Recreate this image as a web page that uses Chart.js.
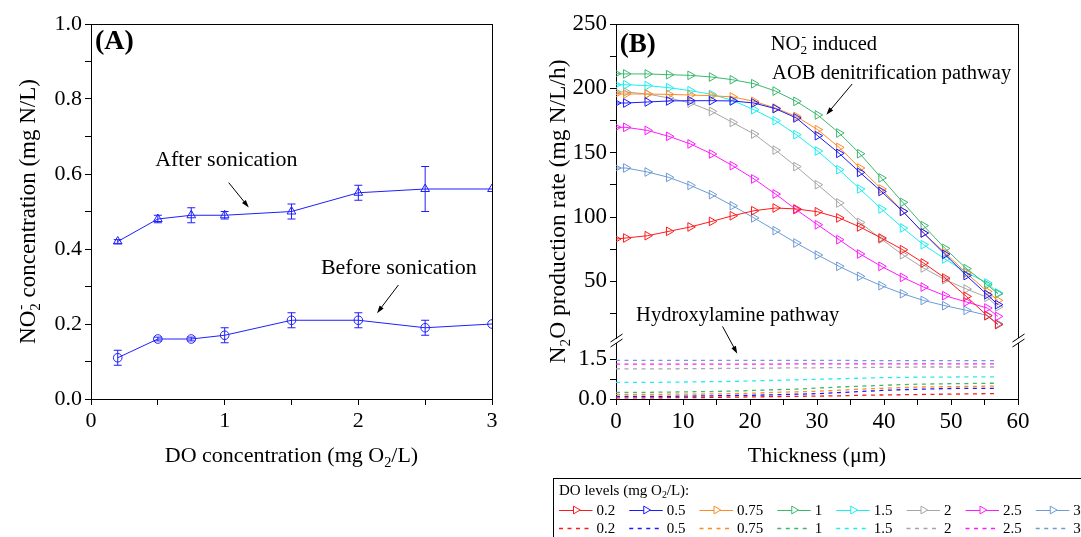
<!DOCTYPE html>
<html>
<head>
<meta charset="utf-8">
<script src="https://cdn.jsdelivr.net/npm/chart.js@4.4.1/dist/chart.umd.min.js"></script>
<style>
  html, body { margin: 0; padding: 0; background: #fff; }
  #wrapA { position: absolute; left: 0; top: 0; width: 540px; height: 537px; }
  #wrapB { position: absolute; left: 540px; top: 0; width: 541px; height: 537px; }
</style>
</head>
<body>
<div id="wrapA"><canvas id="chartA" width="540" height="537"></canvas></div>
<div id="wrapB"><canvas id="chartB" width="541" height="537"></canvas></div>
<script>
// ---------- panel A data ----------
const doConc = [0.2, 0.5, 0.75, 1, 1.5, 2, 2.5, 3];
const afterSonication = [0.42, 0.48, 0.49, 0.49, 0.50, 0.55, 0.56, 0.56];
const afterErr = [0.005, 0.01, 0.02, 0.01, 0.02, 0.02, 0.06, 0];
const beforeSonication = [0.11, 0.16, 0.16, 0.17, 0.21, 0.21, 0.19, 0.20];
const beforeErr = [0.02, 0.005, 0.005, 0.02, 0.02, 0.02, 0.02, 0];

// ---------- panel B data ----------
const thickness = [0, 1.5, 4.7, 7.9, 11.1, 14.3, 17.4, 20.6, 23.8, 26.9,
                   30.1, 33.3, 36.4, 39.6, 42.8, 45.9, 49.1, 52.3, 55.4, 57];
const doLevels = ['0.2', '0.5', '0.75', '1', '1.5', '2', '2.5', '3'];
const levelColors = ['#ff1a1a', '#1a1aff', '#ff8a1f', '#3cb86e', '#1aeef2', '#a6a6a6', '#ff1aff', '#6d9bd6'];

// AOB denitrification pathway (solid, triangles)
const aob02 = [82.9, 83.7, 85.5, 88.9, 92.3, 96.6, 101.0, 104.9, 107.0, 106.3, 104.1, 99.3, 92.3, 83.7, 74.6, 64.3, 52.6, 38.3, 23.3, 16.4];
const aob05 = [188.6, 188.6, 189.4, 190.2, 190.4, 190.4, 190.2, 188.6, 184.2, 177.0, 163.2, 149.5, 134.7, 119.9, 104.4, 87.6, 71.0, 54.5, 39.7, 31.9];
const aob075 = [195.6, 195.6, 195.6, 195.3, 194.8, 194.3, 193.3, 189.9, 184.7, 178.2, 167.9, 154.1, 138.1, 121.8, 104.4, 87.6, 72.1, 56.5, 42.2, 35.2];
const aob1 = [211.4, 211.2, 211.2, 210.6, 210.1, 208.8, 206.7, 203.6, 197.9, 189.9, 179.3, 165.3, 149.2, 130.4, 111.4, 93.3, 75.6, 59.9, 47.4, 40.4];
const aob15 = [202.8, 202.8, 202.1, 200.5, 198.2, 195.3, 190.6, 183.4, 174.9, 164.0, 151.3, 136.8, 121.8, 106.3, 91.5, 78.5, 67.4, 57.0, 48.8, 41.0];
const aob2 = [197.2, 197.2, 195.6, 192.5, 188.6, 182.1, 173.5, 164.5, 152.0, 139.2, 125.1, 110.9, 95.8, 82.9, 70.7, 60.4, 51.3, 44.1, 37.6, 30.1];
const aob25 = [169.7, 169.7, 167.3, 162.7, 156.8, 149.0, 139.9, 129.6, 117.9, 105.7, 94.0, 82.4, 71.3, 61.7, 53.1, 45.6, 38.9, 34.0, 29.3, 22.8];
const aob3 = [138.1, 138.1, 135.0, 130.8, 124.6, 117.4, 108.8, 99.3, 89.4, 79.8, 70.5, 61.7, 53.9, 46.7, 40.4, 35.2, 31.1, 27.5, 23.6, 17.1];

// Hydroxylamine pathway (dashed)
const nh02 = [0.04, 0.04, 0.04, 0.05, 0.05, 0.06, 0.07, 0.08, 0.09, 0.10, 0.11, 0.12, 0.14, 0.15, 0.16, 0.17, 0.18, 0.19, 0.20, 0.20];
const nh05 = [0.10, 0.10, 0.10, 0.10, 0.11, 0.12, 0.13, 0.14, 0.16, 0.18, 0.20, 0.24, 0.28, 0.32, 0.35, 0.37, 0.39, 0.40, 0.40, 0.40];
const nh075 = [0.17, 0.17, 0.17, 0.18, 0.18, 0.19, 0.20, 0.22, 0.25, 0.27, 0.29, 0.33, 0.37, 0.40, 0.43, 0.45, 0.46, 0.47, 0.48, 0.48];
const nh1 = [0.25, 0.25, 0.25, 0.26, 0.27, 0.28, 0.30, 0.32, 0.35, 0.37, 0.41, 0.45, 0.48, 0.51, 0.54, 0.56, 0.57, 0.58, 0.59, 0.59];
const nh15 = [0.62, 0.62, 0.62, 0.63, 0.64, 0.65, 0.66, 0.68, 0.70, 0.72, 0.74, 0.76, 0.78, 0.80, 0.81, 0.82, 0.82, 0.83, 0.83, 0.83];
const nh2 = [1.13, 1.13, 1.13, 1.13, 1.14, 1.14, 1.15, 1.15, 1.16, 1.17, 1.17, 1.18, 1.18, 1.19, 1.19, 1.20, 1.20, 1.20, 1.20, 1.20];
const nh25 = [1.31, 1.31, 1.31, 1.31, 1.31, 1.31, 1.31, 1.31, 1.31, 1.32, 1.32, 1.32, 1.32, 1.32, 1.32, 1.32, 1.32, 1.32, 1.32, 1.32];
const nh3 = [1.45, 1.45, 1.45, 1.45, 1.45, 1.45, 1.45, 1.45, 1.45, 1.45, 1.45, 1.45, 1.44, 1.44, 1.44, 1.44, 1.44, 1.44, 1.44, 1.44];

const aobSeries = [aob02, aob05, aob075, aob1, aob15, aob2, aob25, aob3];
const nhSeries = [nh02, nh05, nh075, nh1, nh15, nh2, nh25, nh3];

// ---------- text helpers ----------
const serif = '"Liberation Serif", "Times New Roman", Times, serif';
Chart.defaults.font.family = serif;
Chart.defaults.color = '#000';

function fontStr(size, bold) {
    return (bold ? 'bold ' : '') + size + 'px ' + serif;
}

function richWidth(ctx, parts, size, bold) {
    let w = 0;
    for (const p of parts) {
        if (typeof p === 'string') {
            ctx.font = fontStr(size, bold);
            w += ctx.measureText(p).width;
        } else {
            ctx.font = fontStr(size * 0.65);
            w += Math.max(ctx.measureText(p.sub || '').width, ctx.measureText(p.sup || '').width);
        }
    }
    return w;
}

// y is the vertical middle of the capitals
function drawRich(ctx, parts, x, y, size, opts = {}) {
    ctx.save();
    ctx.translate(x, y);
    if (opts.rotate) ctx.rotate(opts.rotate);
    const w = richWidth(ctx, parts, size, opts.bold);
    let cx = opts.align === 'center' ? -w / 2 : 0;
    const base = size * 0.33;
    ctx.fillStyle = '#000';
    ctx.textAlign = 'left';
    ctx.textBaseline = 'alphabetic';
    for (const p of parts) {
        if (typeof p === 'string') {
            ctx.font = fontStr(size, opts.bold);
            ctx.fillText(p, cx, base);
            cx += ctx.measureText(p).width;
        } else {
            ctx.font = fontStr(size * 0.65);
            let pw = 0;
            if (p.sub) {
                ctx.fillText(p.sub, cx, base + size * 0.22);
                pw = ctx.measureText(p.sub).width;
            }
            if (p.sup) {
                ctx.fillText(p.sup, cx + 1, base - size * 0.42);
                pw = Math.max(pw, ctx.measureText(p.sup).width + 1);
            }
            cx += pw;
        }
    }
    ctx.restore();
}

function drawArrow(ctx, x1, y1, x2, y2) {
    const ang = Math.atan2(y2 - y1, x2 - x1);
    const hl = 8, hs = 0.32;
    ctx.save();
    ctx.strokeStyle = '#000';
    ctx.fillStyle = '#000';
    ctx.lineWidth = 1;
    ctx.beginPath();
    ctx.moveTo(x1, y1);
    ctx.lineTo(x2 - Math.cos(ang) * 4, y2 - Math.sin(ang) * 4);
    ctx.stroke();
    ctx.beginPath();
    ctx.moveTo(x2, y2);
    ctx.lineTo(x2 - hl * Math.cos(ang - hs), y2 - hl * Math.sin(ang - hs));
    ctx.lineTo(x2 - hl * Math.cos(ang + hs), y2 - hl * Math.sin(ang + hs));
    ctx.closePath();
    ctx.fill();
    ctx.restore();
}

// ---------- plugins ----------
const framePlugin = {
    id: 'frame',
    afterDatasetsDraw(chart, args, opts) {
        const { ctx, chartArea: a } = chart;
        const segs = opts.segments.map((id) => chart.scales[id]);
        const r = Math.round(a.right) + 0.5;
        const t = Math.round(a.top) + 0.5;
        const l = Math.round(a.left) + 0.5;
        ctx.save();
        ctx.strokeStyle = '#000';
        ctx.lineWidth = 1;
        ctx.beginPath();
        ctx.moveTo(a.left, t);
        ctx.lineTo(r + 0.5, t);
        segs.forEach((s) => {
            ctx.moveTo(r, s.top);
            ctx.lineTo(r, s.bottom);
        });
        // break marks between axis segments
        for (let i = 0; i < segs.length - 1; i++) {
            const ys = [segs[i].bottom, segs[i + 1].top];
            for (const x of [l, r]) {
                for (const y of ys) {
                    ctx.moveTo(x - 6, y + 4);
                    ctx.lineTo(x + 6, y - 4);
                }
            }
        }
        ctx.stroke();
        ctx.restore();
    },
};

const errorBarPlugin = {
    id: 'errorBars',
    afterDatasetsDraw(chart) {
        const { ctx } = chart;
        chart.data.datasets.forEach((ds, di) => {
            if (!ds.errors) return;
            const meta = chart.getDatasetMeta(di);
            const ys = chart.scales[meta.yAxisID];
            ctx.save();
            ctx.strokeStyle = ds.borderColor;
            ctx.lineWidth = 1;
            ds.data.forEach((pt, i) => {
                const e = ds.errors[i];
                if (!e) return;
                const px = meta.data[i].x;
                const yTop = ys.getPixelForValue(pt.y + e);
                const yBot = ys.getPixelForValue(pt.y - e);
                ctx.beginPath();
                ctx.moveTo(px, yTop);
                ctx.lineTo(px, yBot);
                ctx.moveTo(px - 4, yTop);
                ctx.lineTo(px + 4, yTop);
                ctx.moveTo(px - 4, yBot);
                ctx.lineTo(px + 4, yBot);
                ctx.stroke();
            });
            ctx.restore();
        });
    },
};

const textPlugin = {
    id: 'texts',
    afterDraw(chart, args, opts) {
        const { ctx, chartArea: a } = chart;
        const xs = chart.scales.x;
        const midY = (a.top + a.bottom) / 2;
        // axis titles
        drawRich(ctx, opts.yTitle, opts.yTitleX, midY, opts.yTitleSize, { align: 'center', rotate: -Math.PI / 2 });
        drawRich(ctx, opts.xTitle, (a.left + a.right) / 2, opts.xTitleY, opts.xTitleSize, { align: 'center' });
        // annotations in data coordinates
        opts.labels.forEach((n) => {
            const ys = chart.scales[n.axis || 'y'];
            drawRich(ctx, n.parts, xs.getPixelForValue(n.x), ys.getPixelForValue(n.y), n.size, { bold: n.bold });
        });
        opts.arrows.forEach((ar) => {
            const y1 = chart.scales[ar.a1 || 'y'].getPixelForValue(ar.y1);
            const y2 = chart.scales[ar.a2 || 'y'].getPixelForValue(ar.y2);
            drawArrow(ctx, xs.getPixelForValue(ar.x1), y1, xs.getPixelForValue(ar.x2), y2);
        });
    },
};

const legendPlugin = {
    id: 'doLegend',
    afterDraw(chart, args, opts) {
        const { ctx } = chart;
        ctx.save();
        ctx.strokeStyle = '#000';
        ctx.lineWidth = 1;
        ctx.strokeRect(opts.boxX + 0.5, opts.boxY + 0.5, 700, 200);
        drawRich(ctx, opts.title, opts.boxX + 6, opts.titleY, opts.size);
        const dsets = chart.data.datasets;
        opts.rows.forEach((rowY, r) => {
            let x = opts.boxX + 6;
            for (let i = 0; i < doLevels.length; i++) {
                const ds = dsets[r * doLevels.length + i];
                ctx.save();
                ctx.strokeStyle = ds.borderColor;
                ctx.lineWidth = ds.borderWidth;
                ctx.setLineDash(ds.borderDash || []);
                ctx.beginPath();
                ctx.moveTo(x, rowY + 0.5);
                ctx.lineTo(x + opts.sample, rowY + 0.5);
                ctx.stroke();
                ctx.setLineDash([]);
                if (ds.pointRadius > 0) {
                    const cx = x + opts.sample / 2, rr = opts.marker;
                    ctx.fillStyle = '#fff';
                    ctx.lineWidth = 1;
                    ctx.beginPath();
                    ctx.moveTo(cx + rr, rowY);
                    ctx.lineTo(cx - rr / 2, rowY - rr * 0.866);
                    ctx.lineTo(cx - rr / 2, rowY + rr * 0.866);
                    ctx.closePath();
                    ctx.fill();
                    ctx.stroke();
                }
                ctx.restore();
                const lx = x + opts.sample + 4;
                drawRich(ctx, [ds.label], lx, rowY, opts.size);
                ctx.font = fontStr(opts.size);
                x = lx + ctx.measureText(ds.label).width + opts.gap;
            }
        });
        ctx.restore();
    },
};

function axisStyle(extra) {
    return Object.assign({
        type: 'linear',
        grid: { drawOnChartArea: false, drawTicks: true, tickLength: 6, color: '#000' },
        border: { display: true, color: '#000', width: 1 },
    }, extra);
}

// ---------- panel A ----------
const blue = '#1f1fff';

const annotationsA = [
    { parts: ['(A)'], x: 0.03, y: 0.957, size: 28, bold: true },
    { parts: ['After sonication'], x: 0.48, y: 0.64, size: 22 },
    { parts: ['Before sonication'], x: 1.72, y: 0.353, size: 22 },
];
const arrowsA = [
    { x1: 1.03, y1: 0.577, x2: 1.18, y2: 0.511 },
    { x1: 2.30, y1: 0.304, x2: 2.14, y2: 0.229 },
];

new Chart(document.getElementById('chartA'), {
    type: 'line',
    data: {
        datasets: [
            {
                label: 'After sonication',
                data: doConc.map((x, i) => ({ x, y: afterSonication[i] })),
                errors: afterErr,
                borderColor: blue,
                borderWidth: 1,
                pointStyle: 'triangle',
                pointRadius: 5,
                pointBorderColor: blue,
                pointBackgroundColor: 'rgba(255,255,255,0)',
                pointBorderWidth: 1,
            },
            {
                label: 'Before sonication',
                data: doConc.map((x, i) => ({ x, y: beforeSonication[i] })),
                errors: beforeErr,
                borderColor: blue,
                borderWidth: 1,
                pointStyle: 'circle',
                pointRadius: 4.3,
                pointBorderColor: blue,
                pointBackgroundColor: 'rgba(255,255,255,0)',
                pointBorderWidth: 1,
            },
        ],
    },
    options: {
        responsive: false,
        animation: false,
        layout: { padding: { left: 0, top: 24, right: 48, bottom: 0 } },
        plugins: {
            legend: { display: false },
            tooltip: { enabled: false },
            frame: { segments: ['y'] },
            texts: {
                yTitle: ['NO', { sub: '2', sup: '-' }, ' concentration (mg N/L)'],
                yTitleX: 27,
                yTitleSize: 23,
                xTitle: ['DO concentration (mg O', { sub: '2' }, '/L)'],
                xTitleY: 455,
                xTitleSize: 22,
                labels: annotationsA,
                arrows: arrowsA,
            },
        },
        scales: {
            x: axisStyle({
                min: 0, max: 3,
                afterFit: (s) => { s.height = 138; },
                ticks: {
                    stepSize: 0.5, autoSkip: false, maxRotation: 0, maxTicksLimit: 100,
                    font: { size: 22 }, color: '#000',
                    callback: (v) => (Math.abs(v - Math.round(v)) < 1e-6 ? String(Math.round(v)) : ''),
                },
            }),
            y: axisStyle({
                min: 0, max: 1,
                afterFit: (s) => { s.width = 91; },
                ticks: {
                    stepSize: 0.1, autoSkip: false, maxTicksLimit: 100,
                    font: { size: 22 }, color: '#000',
                    callback: (v) => {
                        const k = Math.round(v * 10);
                        return k % 2 === 0 ? (k / 10).toFixed(1) : '';
                    },
                },
            }),
        },
    },
    plugins: [framePlugin, errorBarPlugin, textPlugin],
});

// ---------- panel B ----------
const annotationsB = [
    { parts: ['(B)'], x: 0.55, y: 235.5, axis: 'yTop', size: 27, bold: true },
    { parts: ['NO', { sub: '2', sup: '-' }, ' induced'], x: 23.1, y: 235.2, axis: 'yTop', size: 20.5 },
    { parts: ['AOB denitrification pathway'], x: 23.3, y: 212.7, axis: 'yTop', size: 20.5 },
    { parts: ['Hydroxylamine pathway'], x: 3.0, y: 24.1, axis: 'yTop', size: 20.5 },
];
const arrowsB = [
    { x1: 35.25, y1: 203.4, a1: 'yTop', x2: 31.4, y2: 179.5, a2: 'yTop' },
    { x1: 15.9, y1: 15.0, a1: 'yTop', x2: 18.1, y2: 1.70, a2: 'yBot' },
];

const datasetsB = [];
aobSeries.forEach((vals, i) => {
    datasetsB.push({
        label: doLevels[i],
        data: thickness.map((x, k) => ({ x, y: vals[k] })),
        yAxisID: 'yTop',
        borderColor: levelColors[i],
        borderWidth: 1,
        pointStyle: 'triangle',
        rotation: 90,
        pointRadius: 5,
        pointBorderColor: levelColors[i],
        pointBackgroundColor: 'rgba(255,255,255,0)',
        pointBorderWidth: 1,
    });
});
nhSeries.forEach((vals, i) => {
    datasetsB.push({
        label: doLevels[i],
        data: thickness.map((x, k) => ({ x, y: vals[k] })),
        yAxisID: 'yBot',
        borderColor: levelColors[i],
        borderWidth: 1.3,
        borderDash: [4, 4.5],
        pointRadius: 0,
    });
});

new Chart(document.getElementById('chartB'), {
    type: 'line',
    data: { datasets: datasetsB },
    options: {
        responsive: false,
        animation: false,
        layout: { padding: { left: 0, top: 24, right: 63, bottom: 0 } },
        plugins: {
            legend: { display: false },
            tooltip: { enabled: false },
            frame: { segments: ['yTop', 'yBot'] },
            texts: {
                yTitle: ['N', { sub: '2' }, 'O production rate (mg N/L/h)'],
                yTitleX: 17,
                yTitleSize: 23.5,
                xTitle: ['Thickness (\u03bcm)'],
                xTitleY: 455,
                xTitleSize: 22,
                labels: annotationsB,
                arrows: arrowsB,
            },
            doLegend: {
                boxX: 13,
                boxY: 478,
                title: ['DO levels (mg O', { sub: '2' }, '/L):'],
                titleY: 490,
                rows: [510, 528],
                sample: 33.5,
                gap: 14,
                marker: 4.5,
                size: 15,
            },
        },
        scales: {
            x: axisStyle({
                min: 0, max: 60,
                afterFit: (s) => { s.height = 138; },
                ticks: {
                    stepSize: 5, autoSkip: false, maxRotation: 0, maxTicksLimit: 100,
                    font: { size: 23 }, color: '#000',
                    callback: (v) => (v % 10 === 0 ? String(v) : ''),
                },
            }),
            yTop: axisStyle({
                position: 'left', stack: 'b', stackWeight: 314, weight: 3,
                min: 6, max: 250,
                afterFit: (s) => { s.width = 76; },
                ticks: {
                    stepSize: 25, includeBounds: false, autoSkip: false, maxTicksLimit: 100,
                    font: { size: 23 }, color: '#000',
                    callback: (v) => (v % 50 === 0 ? String(v) : ''),
                },
            }),
            yGap: {
                type: 'linear', position: 'left', stack: 'b', stackWeight: 5, weight: 2,
                display: false,
            },
            yBot: axisStyle({
                position: 'left', stack: 'b', stackWeight: 56, weight: 1,
                min: 0, max: 2.1,
                afterFit: (s) => { s.width = 76; },
                ticks: {
                    stepSize: 0.75, includeBounds: false, autoSkip: false, maxTicksLimit: 100,
                    font: { size: 23 }, color: '#000',
                    callback: (v) => (Math.abs(v - 0.75) < 1e-6 ? '' : v.toFixed(1)),
                },
            }),
        },
    },
    plugins: [framePlugin, textPlugin, legendPlugin],
});
</script>
</body>
</html>
